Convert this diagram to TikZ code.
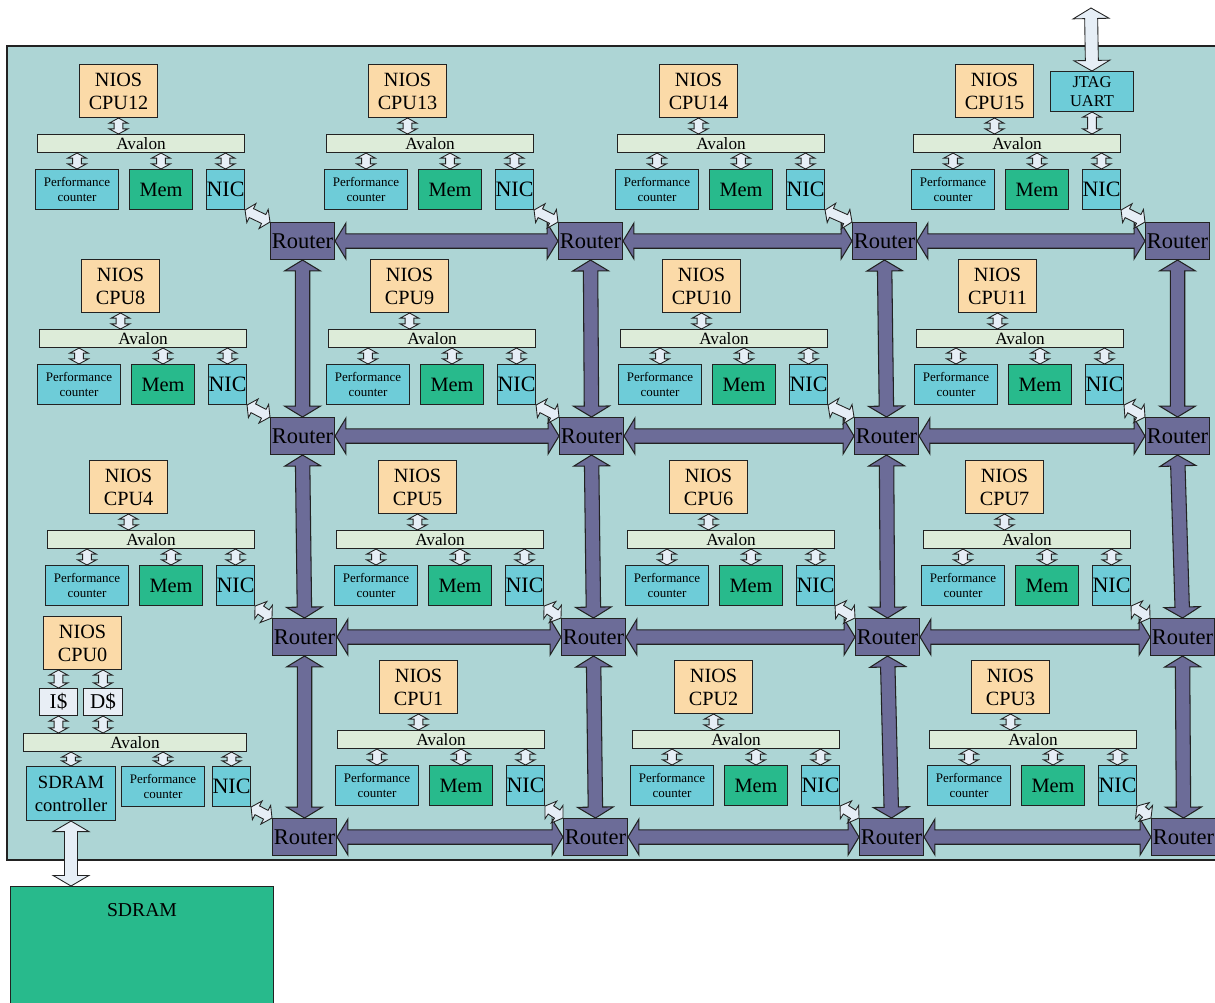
\documentclass[tikz,border=0pt]{standalone}
\usepackage{fontspec}
\setmainfont{Liberation Serif}
\usetikzlibrary{calc}

\definecolor{boardc}{HTML}{ADD5D5}
\definecolor{niosc}{HTML}{FBDAA8}
\definecolor{avalonc}{HTML}{DDECD9}
\definecolor{cyanc}{HTML}{6ECCD8}
\definecolor{memc}{HTML}{28BA8C}
\definecolor{routerc}{HTML}{6C6C98}
\definecolor{arrowc}{HTML}{E6EEF6}
\definecolor{cachec}{HTML}{E8EEF5}
\definecolor{linec}{HTML}{222222}

% outlined double arrow: style, from, to, shaft half width, head half width, head length
\newcommand{\dblarrow}[6]{%
  \path[#1] let \p1=#2, \p2=#3 in
    (\p1) -- ($(\p1)!#6!(\p2)!#5!90:(\p2)$) -- ($(\p1)!#6!(\p2)!#4!90:(\p2)$)
    -- ($(\p2)!#6!(\p1)!#4!-90:(\p1)$) -- ($(\p2)!#6!(\p1)!#5!-90:(\p1)$) -- (\p2)
    -- ($(\p2)!#6!(\p1)!#5!90:(\p1)$) -- ($(\p2)!#6!(\p1)!#4!90:(\p1)$)
    -- ($(\p1)!#6!(\p2)!#4!-90:(\p2)$) -- ($(\p1)!#6!(\p2)!#5!-90:(\p2)$) -- cycle;}
\newcommand{\busarrow}[2]{\dblarrow{whitearrow}{#1}{#2}{2.5pt}{5.3pt}{2.9pt}}
\newcommand{\niclink}[2]{\dblarrow{whitearrow}{#1}{#2}{2.8pt}{6pt}{4pt}}
\newcommand{\meshlink}[2]{\dblarrow{linkarrow}{#1}{#2}{4.1pt}{10.2pt}{6.2pt}}
\newcommand{\iolink}[2]{\dblarrow{whitearrow}{#1}{#2}{3.7pt}{10.2pt}{6pt}}

\begin{document}
\begin{tikzpicture}[x=0.02cm, y=-0.02cm,
    box/.style={draw=linec, line width=0.6pt, inner sep=0pt, anchor=north west, align=center},
    nios/.style={box, fill=niosc, minimum width=1.56cm, minimum height=1.06cm, font=\fontsize{11.5}{13}\selectfont},
    avalon/.style={box, fill=avalonc, minimum width=4.14cm, minimum height=0.36cm, font=\fontsize{9.8}{10}\selectfont},
    perf/.style={box, fill=cyanc, minimum width=1.66cm, minimum height=0.8cm, font=\fontsize{7.4}{8.5}\selectfont},
    mem/.style={box, fill=memc, minimum width=1.26cm, minimum height=0.8cm, font=\fontsize{11.6}{12}\selectfont},
    nic/.style={box, fill=cyanc, minimum width=0.76cm, minimum height=0.8cm, font=\fontsize{12.5}{13}\selectfont},
    router/.style={box, fill=routerc, minimum width=1.28cm, minimum height=0.74cm, font=\fontsize{12.8}{13}\selectfont},
    cache/.style={box, fill=cachec, minimum height=0.54cm, font=\fontsize{12}{13}\selectfont},
    whitearrow/.style={fill=arrowc, draw=linec, line width=0.5pt},
    linkarrow/.style={fill=routerc, draw=linec, line width=0.6pt}]
    \clip (0,0) rectangle (1215,1002);

    % Board
    \draw[fill=boardc, draw=linec, line width=0.6pt] (7,46) rectangle (1240,860);

    % SDRAM
    \node[box, fill=memc, minimum width=5.26cm, minimum height=2.6cm,
      label={[anchor=north, inner sep=0pt, yshift=-0.34cm, font=\fontsize{11.2}{12}\selectfont]north:SDRAM}]
      (sdram) at (10,886) {};

    % Routers
    \foreach \i/\rx/\ry in {12/270/222, 13/558/222, 14/852/222, 15/1145/222,
                            8/270/417, 9/559/417, 10/854/417, 11/1145/417,
                            4/272/618, 5/561/618, 6/855/618, 7/1150/618,
                            0/272/818, 1/563/818, 2/859/818, 3/1151/818}
      \node[router] (r\i) at (\rx,\ry) {Router};

    % Mesh links
    \foreach \a/\b in {0/1, 1/2, 2/3, 4/5, 5/6, 6/7, 8/9, 9/10, 10/11, 12/13, 13/14, 14/15}
      \meshlink{(r\a.east)}{(r\b.west)};
    \foreach \a/\b in {0/4, 4/8, 8/12, 1/5, 5/9, 9/13, 2/6, 6/10, 10/14, 3/7, 7/11, 11/15}
      \meshlink{(r\a.north)}{(r\b.south)};

    % Processor tiles
    \foreach \i/\ax/\ay in {12/37/64, 13/326/64, 14/617/64, 15/913/64,
                            8/39/259, 9/328/259, 10/620/259, 11/916/259,
                            4/47/460, 5/336/460, 6/627/460, 7/923/460,
                            1/337/660, 2/632/660, 3/929/660}{
      \node[nios] (cpu\i) at (\ax+42,\ay) {NIOS\\CPU\i};
      \node[avalon] (av\i) at (\ax,\ay+70) {Avalon};
      \node[perf] (pc\i) at (\ax-2,\ay+105) {Performance\\counter};
      \node[mem] (mem\i) at (\ax+92,\ay+105) {Mem};
      \node[nic] (nic\i) at (\ax+169,\ay+105) {NIC};
      \busarrow{(cpu\i.south)}{(cpu\i.south |- av\i.north)}
      \busarrow{(pc\i.north |- av\i.south)}{(pc\i.north)}
      \busarrow{(mem\i.north |- av\i.south)}{(mem\i.north)}
      \busarrow{(nic\i.north |- av\i.south)}{(nic\i.north)}
    }

    % CPU0 tile with caches and SDRAM controller
    \node[nios] (cpu0) at (43,616) {NIOS\\CPU0};
    \node[cache, minimum width=0.76cm] (ic) at (39,688) {I\$};
    \node[cache, minimum width=0.78cm] (dc) at (83,688) {D\$};
    \node[avalon, minimum width=4.46cm] (av0) at (23,733) {Avalon};
    \node[box, fill=cyanc, minimum width=1.78cm, minimum height=1.08cm, font=\fontsize{10.6}{13}\selectfont]
      (sdc) at (26,766) {SDRAM\\controller};
    \node[perf] (pc0) at (121,766) {Performance\\counter};
    \node[nic] (nic0) at (212,766) {NIC};
    \busarrow{(ic.north |- cpu0.south)}{(ic.north)}
    \busarrow{(dc.north |- cpu0.south)}{(dc.north)}
    \busarrow{(ic.south)}{(ic.south |- av0.north)}
    \busarrow{(dc.south)}{(dc.south |- av0.north)}
    \busarrow{(sdc.north |- av0.south)}{(sdc.north)}
    \busarrow{(pc0.north |- av0.south)}{(pc0.north)}
    \busarrow{(nic0.north |- av0.south)}{(nic0.north)}
    \iolink{(sdc.south)}{(sdc.south |- sdram.north)}

    % JTAG UART
    \node[box, fill=cyanc, minimum width=1.66cm, minimum height=0.8cm, font=\fontsize{9.4}{10.7}\selectfont]
      (jtag) at (1050,71) {JTAG\\UART};
    \coordinate (jtagio) at (1091,8);
    \iolink{(jtagio)}{(jtag.north)}
    \busarrow{(jtag.south)}{(jtag.south |- av15.north)}

    % NIC to router
    \foreach \i in {0,...,15}
      \niclink{(nic\i.south east)}{(r\i.north west)};
\end{tikzpicture}
\end{document}
